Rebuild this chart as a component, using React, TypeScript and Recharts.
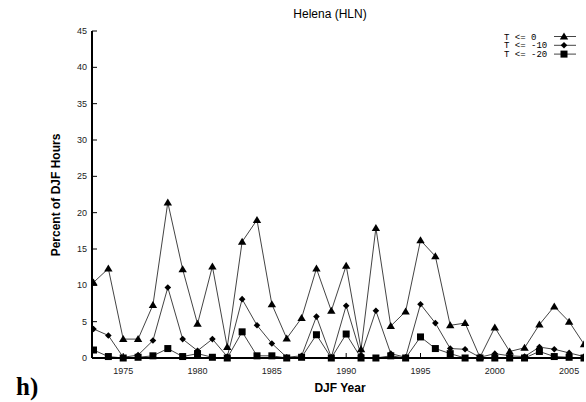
import React from "react"
import { LineChart, Line, XAxis, YAxis } from "recharts"

// DJF seasons, one point per winter
const years = [
  1973, 1974, 1975, 1976, 1977, 1978, 1979, 1980, 1981, 1982, 1983, 1984,
  1985, 1986, 1987, 1988, 1989, 1990, 1991, 1992, 1993, 1994, 1995, 1996,
  1997, 1998, 1999, 2000, 2001, 2002, 2003, 2004, 2005, 2006,
]

// percent of DJF hours at or below each threshold
const tLe0 = [
  10.4, 12.3, 2.6, 2.6, 7.3, 21.4, 12.2, 4.7, 12.6, 1.5, 16.0, 19.0,
  7.4, 2.7, 5.5, 12.3, 6.5, 12.7, 1.2, 17.9, 4.4, 6.4, 16.2, 14.0,
  4.5, 4.8, 0.1, 4.2, 0.9, 1.4, 4.6, 7.1, 5.0, 1.9,
]
const tLe10 = [
  4.0, 3.1, 0.1, 0.4, 2.4, 9.7, 2.6, 1.0, 2.6, 0.2, 8.1, 4.5,
  2.0, 0.1, 0.3, 5.7, 0.1, 7.2, 0.4, 6.5, 0.6, 0.1, 7.4, 4.8,
  1.3, 1.2, 0.1, 0.6, 0.3, 0.2, 1.5, 1.2, 0.7, 0.2,
]
const tLe20 = [
  1.1, 0.2, 0.0, 0.1, 0.3, 1.3, 0.2, 0.6, 0.1, 0.0, 3.6, 0.3,
  0.3, 0.0, 0.1, 3.2, 0.0, 3.3, 0.0, 0.0, 0.3, 0.0, 2.9, 1.3,
  0.6, 0.0, 0.0, 0.0, 0.0, 0.0, 0.9, 0.2, 0.1, 0.0,
]

const xTicks = [1975, 1980, 1985, 1990, 1995, 2000, 2005]
const yTicks = [0, 5, 10, 15, 20, 25, 30, 35, 40, 45]

type Shape = "triangle" | "diamond" | "square"

const series: { key: string; name: string; shape: Shape }[] = [
  { key: "t0", name: "T <= 0", shape: "triangle" },
  { key: "t10", name: "T <= -10", shape: "diamond" },
  { key: "t20", name: "T <= -20", shape: "square" },
]

const data = years.map((year, i) => ({
  year,
  t0: tLe0[i],
  t10: tLe10[i],
  t20: tLe20[i],
}))

const W = 586
const H = 402
const FONT = "'Liberation Sans', Arial, sans-serif"

function Marker({ shape, cx, cy }: { shape: Shape; cx: number; cy: number }) {
  if (shape === "triangle") {
    return <polygon points={`${cx},${cy - 4} ${cx - 4.2},${cy + 3} ${cx + 4.2},${cy + 3}`} fill="#000" />
  }
  if (shape === "diamond") {
    return <polygon points={`${cx},${cy - 3.3} ${cx + 3.3},${cy} ${cx},${cy + 3.3} ${cx - 3.3},${cy}`} fill="#000" />
  }
  return <rect x={cx - 3.5} y={cy - 3.5} width={7} height={7} fill="#000" />
}

const dotFor = (shape: Shape) => (props: any) => (
  <Marker key={`${shape}-${props.index}`} shape={shape} cx={props.cx} cy={props.cy} />
)

// ticks are drawn pointing into the plot frame
const BottomTick = (props: any) => {
  const { x, y, payload } = props
  return (
    <g>
      <line x1={x} x2={x} y1={y - 8} y2={y - 13} stroke="#000" />
      <text x={x} y={y + 8} textAnchor="middle" fontSize={9} fontFamily={FONT} fill="#222">
        {payload.value}
      </text>
    </g>
  )
}

const LeftTick = (props: any) => {
  const { x, y, payload } = props
  return (
    <g>
      <line x1={x + 5} x2={x + 10} y1={y} y2={y} stroke="#000" />
      <text x={x} y={y} dy="0.35em" textAnchor="end" fontSize={9} fontFamily={FONT} fill="#222">
        {payload.value}
      </text>
    </g>
  )
}

const TopTick = (props: any) => {
  const { x, y } = props
  return <line x1={x} x2={x} y1={y} y2={y + 5} stroke="#000" />
}

const RightTick = (props: any) => {
  const { x, y } = props
  return <line x1={x - 5} x2={x} y1={y} y2={y} stroke="#000" />
}

export default function App() {
  return (
    <div style={{ position: "absolute", left: 0, top: 0, width: W, height: H, background: "#fff" }}>
      <LineChart width={W} height={H} data={data} margin={{ top: 31, right: 2, bottom: 14, left: 62 }}>
        <XAxis
          dataKey="year"
          type="number"
          domain={[1972.9, 2006]}
          allowDataOverflow
          ticks={xTicks}
          height={30}
          tickSize={0}
          tickMargin={8}
          tick={BottomTick}
          axisLine={{ stroke: "#000", strokeWidth: 2 }}
        />
        <XAxis
          xAxisId="top"
          orientation="top"
          type="number"
          domain={[1972.9, 2006]}
          allowDataOverflow
          ticks={xTicks}
          height={0}
          tickSize={0}
          tickMargin={0}
          tick={TopTick}
          axisLine={{ stroke: "#000", strokeWidth: 2 }}
        />
        <YAxis
          type="number"
          domain={[0, 45]}
          ticks={yTicks}
          width={30}
          tickSize={0}
          tickMargin={5}
          tick={LeftTick}
          axisLine={{ stroke: "#000", strokeWidth: 2 }}
        />
        <YAxis
          yAxisId="right"
          orientation="right"
          type="number"
          domain={[0, 45]}
          allowDataOverflow
          ticks={yTicks}
          width={0}
          tickSize={0}
          tickMargin={0}
          tick={RightTick}
          axisLine={{ stroke: "#000", strokeWidth: 1 }}
        />
        {series.map((s) => (
          <Line
            key={s.key}
            type="linear"
            dataKey={s.key}
            name={s.name}
            stroke="#444"
            strokeWidth={1}
            dot={dotFor(s.shape)}
            activeDot={false}
            isAnimationActive={false}
          />
        ))}
      </LineChart>

      <svg width={W} height={H} style={{ position: "absolute", left: 0, top: 0, pointerEvents: "none" }}>
        <text x={330} y={18} textAnchor="middle" fontSize={12} fontFamily={FONT} fill="#000">
          Helena (HLN)
        </text>
        <text x={340} y={392} textAnchor="middle" fontSize={12} fontWeight="bold" fontFamily={FONT} fill="#000">
          DJF Year
        </text>
        <text
          x={56}
          y={195}
          transform="rotate(-90 56 195)"
          textAnchor="middle"
          dominantBaseline="central"
          fontSize={12}
          fontWeight="bold"
          fontFamily={FONT}
          fill="#000"
        >
          Percent of DJF Hours
        </text>
        <text x={16} y={395} fontSize={25} fontWeight="bold" fontFamily="'Liberation Serif', serif" fill="#000">
          h)
        </text>
        {series.map((s, i) => {
          const cy = 36.5 + i * 8.8
          return (
            <g key={s.key}>
              <text
                x={504}
                y={cy}
                dy="0.35em"
                fontSize={9}
                fontFamily="'Liberation Mono', 'DejaVu Sans Mono', monospace"
                fill="#000"
                style={{ whiteSpace: "pre" }}
              >
                {s.name}
              </text>
              <line x1={554} x2={576} y1={cy} y2={cy} stroke="#444" strokeWidth={1} />
              <Marker shape={s.shape} cx={564} cy={cy} />
            </g>
          )
        })}
      </svg>
    </div>
  )
}
